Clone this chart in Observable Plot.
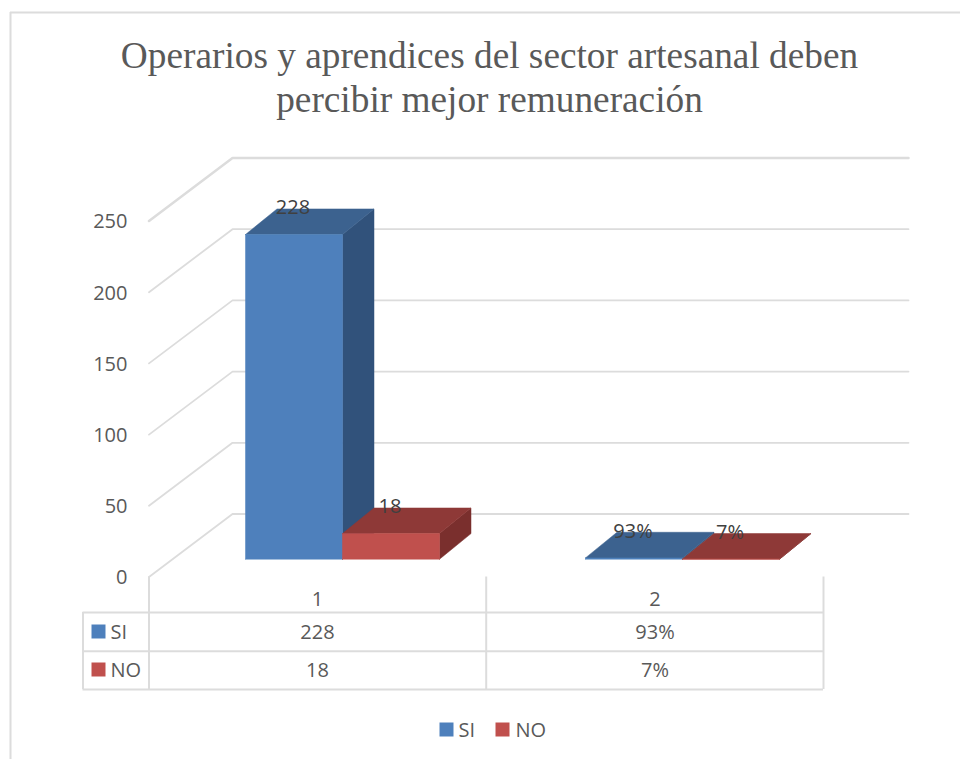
<!DOCTYPE html>
<html>
<head>
<meta charset="utf-8">
<script src="https://cdn.jsdelivr.net/npm/d3@7"></script>
<script src="https://cdn.jsdelivr.net/npm/@observablehq/plot@0.6"></script>
<style>html,body{margin:0;padding:0;background:#fff}svg{display:block}</style>
</head>
<body>
<div id="chart"></div>
<script>
const titleLines = ["Operarios y aprendices del sector artesanal deben", "percibir mejor remuneración"];
const categories = ["1", "2"];
const seriesNames = ["SI", "NO"];
const siValues = [228, 0.93];
const noValues = [18, 0.07];
const siLabels = ["228", "93%"];
const noLabels = ["18", "7%"];
const yTicks = [0, 50, 100, 150, 200, 250];

const W = 960, H = 759;
// linear scales: x in category units, y in chart values; the SVG spans them.
const X0 = 148.5, XU = 337.5, Y0 = 576.5, YU = 356 / 250;
const ux = px => (px - X0) / XU;
const uy = py => (Y0 - py) / YU;
const wall = {dx: ux(232) - ux(X0), dy: 63 / YU};          // depth of the floor
const barBase = {dx: 0, dy: 17.8 / YU};                     // lift of bar fronts off the front edge
const barDepth = {dx: 31.5 / XU, dy: 25.6 / YU};            // depth of each bar
const groupStart = [ux(245), ux(585)];
const barW = 97 / XU;
const gridRight = ux(908);

const GRID = "#dcdcdc", TXT = "#595959", LBL = "#404040";
const colors = {
  SI: {front: "#4e80bc", top: "#3c628f", side: "#31527b"},
  NO: {front: "#c0504d", top: "#8e3937", side: "#7a2f2d"}
};

const bars = [];
categories.forEach((c, i) => {
  seriesNames.forEach((s, k) => {
    const value = (k === 0 ? siValues : noValues)[i];
    bars.push({s, x0: groupStart[i] + k * barW, value,
      label: (k === 0 ? siLabels : noLabels)[i]});
  });
});

const face = (pts, color) => Plot.line(pts, {x: "x", y: "y", fill: color, stroke: color, strokeWidth: 0.5, curve: "linear"});
const barMarks = bars.flatMap(b => {
  const l = b.x0, r = b.x0 + barW, v0 = barBase.dy, v1 = barBase.dy + b.value;
  const dx = barDepth.dx, dy = barDepth.dy, c = colors[b.s];
  return [
    face([{x: r, y: v0}, {x: r + dx, y: v0 + dy}, {x: r + dx, y: v1 + dy}, {x: r, y: v1}, {x: r, y: v0}], c.side),
    face([{x: l, y: v1}, {x: r, y: v1}, {x: r + dx, y: v1 + dy}, {x: l + dx, y: v1 + dy}, {x: l, y: v1}], c.top),
    face([{x: l, y: v0}, {x: r, y: v0}, {x: r, y: v1}, {x: l, y: v1}, {x: l, y: v0}], c.front)
  ];
});
const barLabels = bars.map(b => ({
  x: b.x0 + barW / 2,
  y: barBase.dy + b.value + barDepth.dy,
  label: b.label
}));

const sans = "'Open Sans', sans-serif";
const FS = 20;

const rowY = [uy(632), uy(670.5)];
const catCenters = [ux(317), ux(654.5)];
const tableColsX = [ux(82.5), ux(148.5), ux(485.7), ux(823)];
const tableRowsY = [uy(612), uy(650.7), uy(689)];

const rowTable = [];
seriesNames.forEach((s, k) => categories.forEach((c, i) =>
  rowTable.push({x: catCenters[i], y: rowY[k], t: (k === 0 ? siLabels : noLabels)[i]})));

const swatch = (cx, cy, color) => Plot.dot([{x: cx, y: cy}], {x: "x", y: "y", symbol: "square", r: 7.9, fill: color, stroke: "none"});

const plot = Plot.plot({
  width: W, height: H,
  marginTop: 0, marginRight: 0, marginBottom: 0, marginLeft: 0,
  x: {type: "linear", domain: [ux(0), ux(W)], range: [0, W], axis: null},
  y: {type: "linear", domain: [uy(H), uy(0)], range: [H, 0], axis: null},
  style: {background: "#fff"},
  marks: [
    // chart frame
    Plot.ruleY([uy(12)], {x1: ux(10), x2: ux(W), stroke: GRID, strokeWidth: 2}),
    Plot.ruleX([ux(10)], {y1: uy(12), y2: uy(H), stroke: GRID, strokeWidth: 2}),
    // gridlines: floor-side diagonal then back wall
    ...yTicks.map(t => Plot.line(
      [{x: 0, y: t}, {x: wall.dx, y: t + wall.dy}, {x: gridRight, y: t + wall.dy}],
      {x: "x", y: "y", stroke: GRID, strokeWidth: t === 250 ? 2.5 : 1.8, curve: "linear"})),
    // table
    Plot.ruleX(tableColsX.slice(1), {y1: uy(576.5), y2: tableRowsY[2], stroke: GRID, strokeWidth: 2}),
    Plot.ruleX(tableColsX.slice(0, 1), {y1: tableRowsY[0], y2: tableRowsY[2], stroke: GRID, strokeWidth: 2}),
    Plot.ruleY(tableRowsY, {x1: tableColsX[0], x2: tableColsX[3], stroke: GRID, strokeWidth: 2}),
    // bars
    ...barMarks,
    Plot.text(barLabels, {x: "x", y: "y", text: "label", fontFamily: sans, fontSize: FS, fill: LBL, dy: -1, dx: -1}),
    // axis
    Plot.axisY(yTicks, {anchor: "left", tickSize: 0, tickPadding: 0, dx: 127, dy: 1, label: null, fontFamily: sans, fontSize: FS, color: TXT, fill: TXT, textAnchor: "end"}),
    // category labels and table cells
    Plot.text(categories, {x: (d, i) => catCenters[i], y: uy(599.5), text: d => d, fontFamily: sans, fontSize: FS, fill: TXT}),
    Plot.text(rowTable, {x: "x", y: "y", text: "t", fontFamily: sans, fontSize: FS, fill: TXT}),
    swatch(ux(98), uy(631), colors.SI.front),
    swatch(ux(98), uy(669), colors.NO.front),
    Plot.text(seriesNames, {x: ux(110), y: (d, i) => rowY[i], text: d => d, textAnchor: "start", fontFamily: sans, fontSize: FS, fill: TXT}),
    // legend
    swatch(ux(446), uy(729), colors.SI.front),
    swatch(ux(502), uy(729), colors.NO.front),
    Plot.text(seriesNames, {x: (d, i) => ux(i === 0 ? 458 : 515), y: uy(730), text: d => d, textAnchor: "start", fontFamily: sans, fontSize: FS, fill: TXT}),
    // title
    Plot.text(titleLines, {x: ux(489), y: (d, i) => uy(i === 0 ? 56 : 100), text: d => d, fontFamily: "'Liberation Serif', serif", fontSize: 37.3, fill: TXT})
  ]
});
document.getElementById("chart").appendChild(plot);
</script>
</body>
</html>
